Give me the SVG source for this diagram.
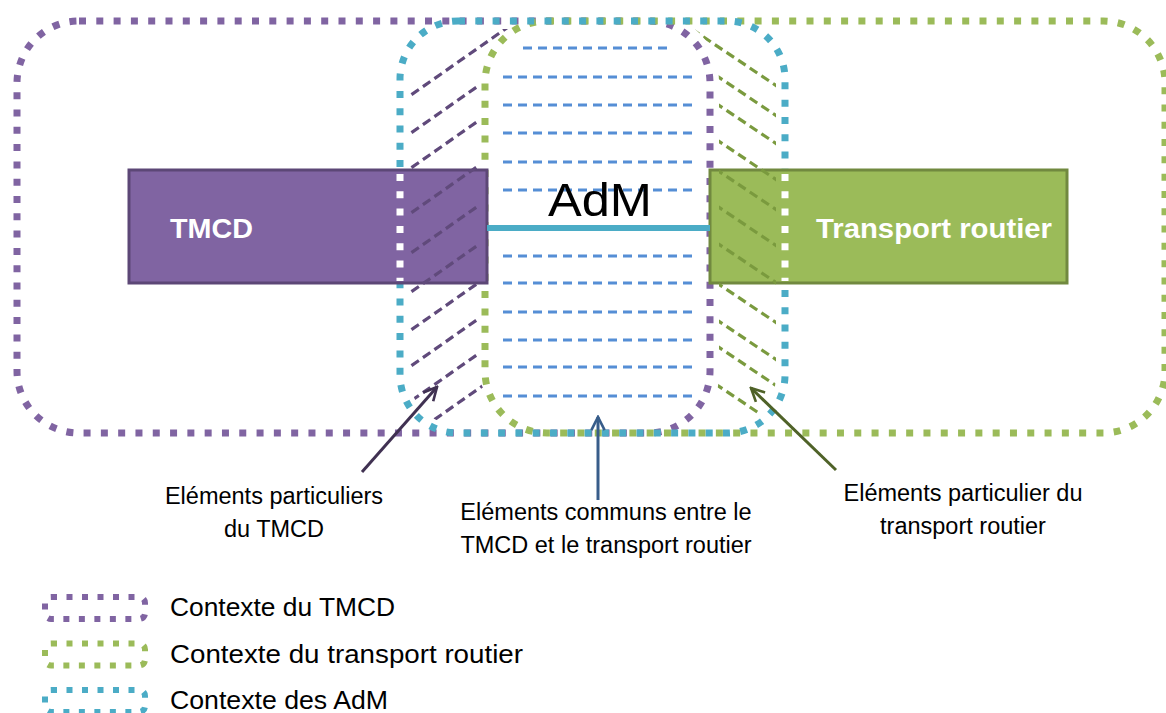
<svg xmlns="http://www.w3.org/2000/svg" width="1166" height="713" viewBox="0 0 1166 713">
<style>
.box{fill:none;stroke-width:7;stroke-dasharray:7 10.3}
.pu{stroke:#8064A2}.gr{stroke:#9BBB59}.bl{stroke:#4BACC6}
.hp{fill:none;stroke:#604A7B;stroke-width:3.2;stroke-dasharray:9 5}
.hg{fill:none;stroke:#7A9A3E;stroke-width:3.2;stroke-dasharray:9 5}
.mid{fill:none;stroke:#558ED5;stroke-width:3;stroke-dasharray:9 6}
.wd{fill:none;stroke:#FFFFFF;stroke-width:7;stroke-dasharray:7 10.3}
.lbl{font-family:"Liberation Sans",Arial,sans-serif;font-size:23.5px;fill:#000;text-anchor:middle}
.leg{font-family:"Liberation Sans",Arial,sans-serif;font-size:26px;fill:#000}
.nt{font-family:"Liberation Sans",Arial,sans-serif;font-size:28px;font-weight:bold;fill:#FFFFFF}
.lic{fill:none;stroke-width:6;stroke-dasharray:6 9.5}
</style>
<defs>
<clipPath id="clipL"><path d="M458 29 L540 29 A64 64 0 0 0 477 93 L477 361 A64 64 0 0 0 540 425 L458 425 A49 49 0 0 1 409 376 L409 78 A49 49 0 0 1 458 29 Z"/></clipPath>
<clipPath id="clipR"><path d="M695 29 L727 29 A49 49 0 0 1 776 78 L776 376 A49 49 0 0 1 727 425 L697 425 A69 69 0 0 0 719 374 L719 81 A69 69 0 0 0 695 29 Z"/></clipPath>
<marker id="ahP" viewBox="0 0 10 10" refX="9" refY="5" markerWidth="5.5" markerHeight="5.5" orient="auto" markerUnits="strokeWidth"><path d="M1,1 L9,5 L1,9" fill="none" stroke="#403152" stroke-width="1.6"/></marker>
<marker id="ahB" viewBox="0 0 10 10" refX="9" refY="5" markerWidth="5.5" markerHeight="5.5" orient="auto" markerUnits="strokeWidth"><path d="M1,1 L9,5 L1,9" fill="none" stroke="#385D8A" stroke-width="1.6"/></marker>
<marker id="ahG" viewBox="0 0 10 10" refX="9" refY="5" markerWidth="5.5" markerHeight="5.5" orient="auto" markerUnits="strokeWidth"><path d="M1,1 L9,5 L1,9" fill="none" stroke="#4F6228" stroke-width="1.6"/></marker>
</defs>
<g id="context-tmcd"><rect class="box pu" x="17" y="21" width="693" height="412" rx="62"/></g>
<g id="context-routier"><rect class="box gr" x="485" y="21" width="680" height="412" rx="62"/></g>
<g id="context-adm"><rect class="box bl" x="400" y="21" width="385" height="412" rx="58"/></g>
<g id="node-tmcd">
<rect x="129" y="170" width="358" height="113" fill="#8064A2" stroke="#5C4776" stroke-width="3"/>
<text class="nt" x="170" y="238" textLength="83" lengthAdjust="spacingAndGlyphs">TMCD</text>
</g>
<g id="node-routier">
<rect x="710" y="170" width="357" height="113" fill="#9BBB59" stroke="#71893F" stroke-width="3"/>
<text class="nt" x="816" y="238" textLength="236" lengthAdjust="spacingAndGlyphs">Transport routier</text>
</g>
<g id="hatch-tmcd" clip-path="url(#clipL)">
<path class="hp" d="M400 102.7 L510 25.7 M400 140.7 L510 63.7 M400 175.7 L510 98.7 M400 220.7 L510 143.7 M400 260.7 L510 183.7 M400 299.7 L510 222.7 M400 337.7 L510 260.7 M400 373.7 L510 296.7 M400 408.7 L510 331.7 M400 443.7 L510 366.7"/>
</g>
<g id="hatch-routier" clip-path="url(#clipR)">
<path class="hg" d="M680 21.2 L790 94.9 M680 51.2 L790 124.9 M680 79.2 L790 152.9 M680 115.2 L790 188.9 M680 145.2 L790 218.9 M680 181.2 L790 254.9 M680 218.2 L790 291.9 M680 258.2 L790 331.9 M680 295.2 L790 368.9 M680 321.2 L790 394.9 M680 360.2 L790 433.9"/>
</g>
<g id="white-dots">
<line class="wd" x1="400" y1="174" x2="400" y2="281"/>
<line class="wd" x1="785" y1="174" x2="785" y2="281"/>
</g>
<g id="common-elements">
<path class="mid" d="M523 48 H673 M503 77 H692 M503 105 H692 M503 133 H692 M503 162 H692 M503 190 H692 M503 256 H692 M503 283 H692 M503 312 H692 M503 340 H692 M503 367 H692 M503 396 H692"/>
</g>
<g id="connectors">
<line x1="487" y1="228" x2="710" y2="228" stroke="#4BACC6" stroke-width="6"/>
<line x1="362" y1="472" x2="437" y2="387" stroke="#403152" stroke-width="3" marker-end="url(#ahP)"/>
<line x1="598" y1="500" x2="598" y2="417" stroke="#385D8A" stroke-width="3" marker-end="url(#ahB)"/>
<line x1="836" y1="470" x2="751" y2="388" stroke="#4F6228" stroke-width="3" marker-end="url(#ahG)"/>
</g>
<g id="label-adm"><text x="600" y="216" font-family="Liberation Sans, Arial, sans-serif" font-size="47" text-anchor="middle" fill="#000" textLength="104" lengthAdjust="spacingAndGlyphs">AdM</text></g>
<g id="label-tmcd">
<text class="lbl" x="274" y="504">Eléments particuliers</text>
<text class="lbl" x="274" y="537">du TMCD</text>
</g>
<g id="label-commun">
<text class="lbl" x="606" y="520">Eléments communs entre le</text>
<text class="lbl" x="606" y="553">TMCD et le transport routier</text>
</g>
<g id="label-routier">
<text class="lbl" x="963" y="501">Eléments particulier du</text>
<text class="lbl" x="963" y="534">transport routier</text>
</g>
<g id="legend">
<rect class="lic pu" x="45" y="597" width="100" height="22" rx="6"/>
<text class="leg" x="170" y="616" textLength="225" lengthAdjust="spacingAndGlyphs">Contexte du TMCD</text>
<rect class="lic gr" x="45" y="643.5" width="100" height="22" rx="6"/>
<text class="leg" x="170" y="663" textLength="353" lengthAdjust="spacingAndGlyphs">Contexte du transport routier</text>
<rect class="lic bl" x="45" y="690" width="100" height="22" rx="6"/>
<text class="leg" x="170" y="709" textLength="218" lengthAdjust="spacingAndGlyphs">Contexte des AdM</text>
</g>
</svg>
